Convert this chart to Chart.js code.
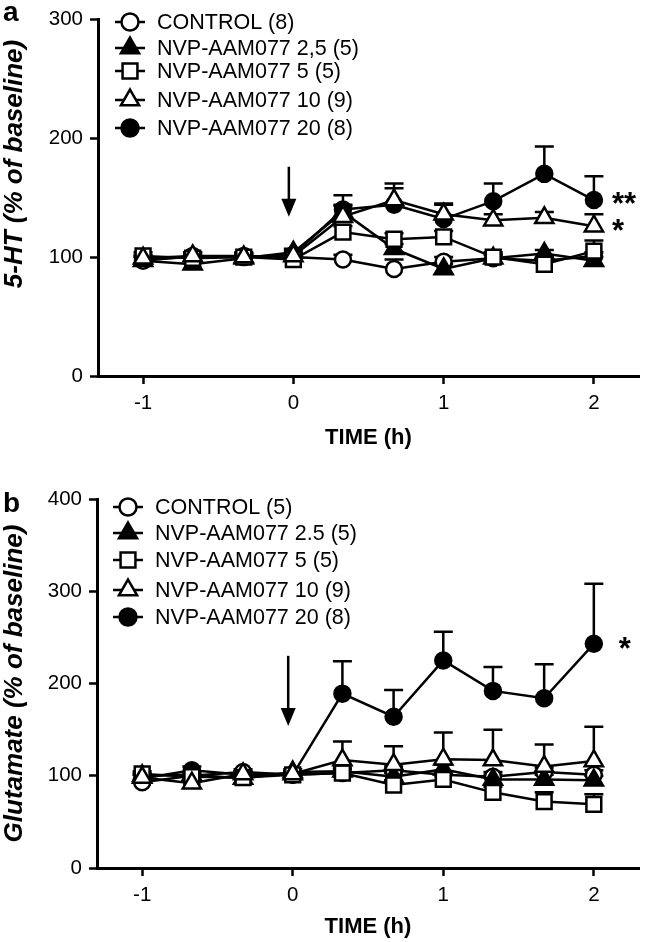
<!DOCTYPE html>
<html><head><meta charset="utf-8">
<script src="https://cdn.jsdelivr.net/npm/chart.js@4/dist/chart.umd.min.js"></script>
<style>
html,body{margin:0;padding:0;background:#fff;}
#wrap{width:652px;height:942px;position:relative;overflow:hidden;}
canvas{position:absolute;left:0;}
</style></head><body>
<div id="wrap">
<canvas id="ca" width="652" height="470" style="top:0"></canvas>
<canvas id="cb" width="652" height="472" style="top:470px"></canvas>
</div>
<script>
// ---------- data ----------
const TIME_H = [-1, -0.67, -0.33, 0, 0.33, 0.67, 1, 1.33, 1.67, 2];
const X_TICKS = [-1, 0, 1, 2];
const Y_TICKS_A = [0, 100, 200, 300];
const Y_TICKS_B = [0, 100, 200, 300, 400];

const LABELS_A = ['CONTROL (8)', 'NVP-AAM077 2,5 (5)', 'NVP-AAM077 5 (5)', 'NVP-AAM077 10 (9)', 'NVP-AAM077 20 (8)'];
const LABELS_B = ['CONTROL (5)', 'NVP-AAM077 2.5 (5)', 'NVP-AAM077 5 (5)', 'NVP-AAM077 10 (9)', 'NVP-AAM077 20 (8)'];

// Panel a: 5-HT (% of baseline), mean and upper SEM
const A_CONTROL = [97, 101, 101, 100, 98, 90, 96, 99, 97, 101];
const A_CONTROL_SEM = [3, 3, 3, 3, 4, 8, 4, 3, 3, 3];
const A_D2_5 = [97, 94, 99, 104, 138, 107, 90, 99, 103, 97];
const A_D2_5_SEM = [3, 3, 3, 3, 5, 4, 4, 3, 3, 3];
const A_D5 = [101, 99, 100, 98, 121, 115, 117, 100, 94, 105];
const A_D5_SEM = [3, 3, 3, 3, 5, 5, 5, 4, 4, 9];
const A_D10 = [99, 101, 100, 101, 134, 148, 136, 131, 133, 126];
const A_D10_SEM = [3, 3, 3, 3, 10, 10, 8, 5, 5, 10];
const A_D20 = [98, 100, 100, 102, 140, 144, 132, 147, 170, 148];
const A_D20_SEM = [3, 3, 3, 4, 12, 18, 13, 15, 23, 20];

// Panel b: Glutamate (% of baseline)
const B_CONTROL = [93, 100, 104, 101, 103, 106, 101, 99, 104, 101];
const B_CONTROL_SEM = [3, 3, 3, 3, 4, 4, 4, 5, 5, 5];
const B_D2_5 = [100, 101, 97, 104, 105, 99, 107, 96, 96, 95];
const B_D2_5_SEM = [3, 3, 3, 3, 4, 4, 5, 5, 5, 5];
const B_D5 = [102, 99, 98, 101, 103, 90, 96, 82, 72, 69];
const B_D5_SEM = [3, 3, 3, 3, 4, 5, 5, 6, 10, 11];
const B_D10 = [98, 92, 102, 102, 117, 112, 118, 117, 110, 116];
const B_D10_SEM = [3, 3, 3, 3, 20, 20, 29, 33, 24, 37];
const B_D20 = [97, 106, 101, 101, 189, 164, 225, 192, 184, 243];
const B_D20_SEM = [4, 4, 4, 4, 35, 29, 31, 26, 37, 65];

// annotations (data coordinates)
const ARROW_A = {x: -0.03, from: 176, to: 134};
const ARROW_B = {x: -0.03, from: 230, to: 154};
const STARS_A = [{text: '**', y: 150}, {text: '*', y: 127}];
const STARS_B = [{text: '*', y: 244}];

// ---------- rendering ----------
const FONT = '"Liberation Sans", Arial, Helvetica, sans-serif';
const STYLES = [
  {pointStyle: 'circle', fill: '#fff', radius: 8, order: 3},
  {pointStyle: 'triangle', fill: '#000', radius: 10.5, order: 2},
  {pointStyle: 'rect', fill: '#fff', radius: 10.5, order: 1},
  {pointStyle: 'triangle', fill: '#fff', radius: 10.5, order: 0},
  {pointStyle: 'circle', fill: '#000', radius: 8, order: 4}
];

function makeDatasets(labels, series, sems) {
  return series.map((vals, i) => ({
    label: labels[i],
    data: TIME_H.map((t, j) => ({x: t, y: vals[j]})),
    sem: sems[i],
    borderColor: '#000',
    borderWidth: 2.5,
    backgroundColor: STYLES[i].fill,
    pointStyle: STYLES[i].pointStyle,
    pointRadius: STYLES[i].radius,
    pointHoverRadius: STYLES[i].radius,
    pointBackgroundColor: STYLES[i].fill,
    pointBorderColor: '#000',
    pointBorderWidth: 2.5,
    tension: 0,
    order: STYLES[i].order,
    clip: false
  }));
}

function drawMarker(ctx, style, fill, x, y, r) {
  ctx.save();
  ctx.fillStyle = fill; ctx.strokeStyle = '#000'; ctx.lineWidth = 2.5;
  ctx.beginPath();
  if (style === 'circle') {
    ctx.arc(x, y, r, 0, Math.PI * 2);
  } else if (style === 'rect') {
    const s = r * Math.SQRT1_2;
    ctx.rect(x - s, y - s, 2 * s, 2 * s);
  } else {
    const k = Math.PI * 2 / 3;
    let a = 0;
    ctx.moveTo(x + Math.sin(a) * r, y - Math.cos(a) * r); a += k;
    ctx.lineTo(x + Math.sin(a) * r, y - Math.cos(a) * r); a += k;
    ctx.lineTo(x + Math.sin(a) * r, y - Math.cos(a) * r);
    ctx.closePath();
  }
  ctx.fill(); ctx.stroke();
  ctx.restore();
}

const errorBars = {
  id: 'errorBars',
  beforeDatasetsDraw(chart) {
    const ctx = chart.ctx, ys = chart.scales.y;
    chart.data.datasets.forEach((ds, i) => {
      const meta = chart.getDatasetMeta(i);
      ctx.save(); ctx.strokeStyle = '#000'; ctx.lineWidth = 2.5;
      meta.data.forEach((pt, j) => {
        const e = ds.sem[j];
        if (!e) return;
        const yt = ys.getPixelForValue(ds.data[j].y + e);
        ctx.beginPath();
        ctx.moveTo(pt.x, pt.y); ctx.lineTo(pt.x, yt);
        ctx.moveTo(pt.x - 9.5, yt); ctx.lineTo(pt.x + 9.5, yt);
        ctx.stroke();
      });
      ctx.restore();
    });
  }
};

const extras = {
  id: 'extras',
  afterDraw(chart, args, o) {
    const ctx = chart.ctx, xs = chart.scales.x, ys = chart.scales.y;
    const ca = chart.chartArea;
    ctx.save();
    // arrow
    const ax = xs.getPixelForValue(o.arrow.x);
    const y0 = ys.getPixelForValue(o.arrow.from), y1 = ys.getPixelForValue(o.arrow.to);
    ctx.strokeStyle = '#000'; ctx.fillStyle = '#000'; ctx.lineWidth = 2.5;
    ctx.beginPath(); ctx.moveTo(ax, y0); ctx.lineTo(ax, y1 - 14); ctx.stroke();
    ctx.beginPath(); ctx.moveTo(ax - 7.5, y1 - 18); ctx.lineTo(ax + 7.5, y1 - 18); ctx.lineTo(ax, y1); ctx.closePath(); ctx.fill();
    // stars
    ctx.font = 'bold 31px ' + FONT; ctx.textAlign = 'left'; ctx.textBaseline = 'alphabetic';
    o.stars.forEach(s => {
      ctx.fillText(s.text, xs.getPixelForValue(2) + o.starDx, ys.getPixelForValue(s.y) + 16);
    });
    // legend
    ctx.font = '21.5px ' + FONT; ctx.textBaseline = 'middle';
    chart.data.datasets.forEach((ds, i) => {
      const y = o.legendRows[i];
      ctx.strokeStyle = '#000'; ctx.lineWidth = 2.5;
      ctx.beginPath(); ctx.moveTo(o.legendX - 15, y); ctx.lineTo(o.legendX + 15, y); ctx.stroke();
      drawMarker(ctx, STYLES[i].pointStyle, STYLES[i].fill, o.legendX, y, STYLES[i].pointStyle === 'circle' ? 8.5 : 10.5);
      ctx.fillStyle = '#000';
      ctx.fillText(ds.label, o.legendTextX, y + 1);
    });
    // y title
    ctx.save();
    ctx.translate(15, o.titleCy === null ? (ca.top + ca.bottom) / 2 : o.titleCy);
    ctx.rotate(-Math.PI / 2);
    ctx.font = 'italic bold 26px ' + FONT; ctx.textAlign = 'center'; ctx.textBaseline = 'middle';
    ctx.fillText(o.yTitle, 0, 0);
    ctx.restore();
    // panel letter
    ctx.font = 'bold 28px ' + FONT; ctx.textAlign = 'left'; ctx.textBaseline = 'alphabetic';
    ctx.fillText(o.letter, 3, o.letterY);
    ctx.restore();
  }
};

function makeChart(id, cfg) {
  return new Chart(document.getElementById(id), {
    type: 'line',
    data: {datasets: makeDatasets(cfg.labels, cfg.series, cfg.sems)},
    plugins: [errorBars, extras],
    options: {
      responsive: false, animation: false, devicePixelRatio: 1,
      events: [],
      layout: {padding: {top: cfg.padTop, right: cfg.padRight, left: 0, bottom: 0}},
      plugins: {
        legend: {display: false}, tooltip: {enabled: false},
        extras: cfg.extras
      },
      scales: {
        x: {
          type: 'linear', min: -1.3, max: 2.3,
          afterBuildTicks: s => { s.ticks = X_TICKS.map(v => ({value: v})); },
          afterFit: s => { s.height = cfg.xHeight; },
          ticks: {color: '#000', font: {family: FONT, size: 20.5}, padding: 7, maxRotation: 0, autoSkip: false},
          grid: {drawOnChartArea: false, drawTicks: true, tickLength: 8, tickWidth: 2.5, tickColor: '#000', color: '#000'},
          border: {display: true, color: '#000', width: 3},
          title: {display: true, text: 'TIME (h)', color: '#000', font: {family: FONT, size: 22, weight: 'bold'}, padding: {top: 0, bottom: cfg.titlePad}}
        },
        y: {
          min: 0, max: cfg.yMax,
          afterBuildTicks: s => { s.ticks = cfg.yTicks.map(v => ({value: v})); },
          afterFit: s => { s.width = cfg.yWidth; },
          ticks: {color: '#000', font: {family: FONT, size: 20.5}, padding: 7},
          grid: {drawOnChartArea: false, drawTicks: true, tickLength: 8, tickWidth: 2.5, tickColor: '#000', color: '#000'},
          border: {display: true, color: '#000', width: 3}
        }
      }
    }
  });
}

makeChart('ca', {
  labels: LABELS_A,
  series: [A_CONTROL, A_D2_5, A_D5, A_D10, A_D20],
  sems: [A_CONTROL_SEM, A_D2_5_SEM, A_D5_SEM, A_D10_SEM, A_D20_SEM],
  yMax: 300, yTicks: Y_TICKS_A,
  padTop: 12, padRight: 2, xHeight: 94, yWidth: 98, titlePad: 19,
  extras: {arrow: ARROW_A, stars: STARS_A, starDx: 18,
    legendRows: [22, 48, 71, 100, 128], legendX: 130, legendTextX: 157,
    yTitle: '5-HT (% of baseline)', titleCy: 164, letter: 'a', letterY: 21}
});

makeChart('cb', {
  labels: LABELS_B,
  series: [B_CONTROL, B_D2_5, B_D5, B_D10, B_D20],
  sems: [B_CONTROL_SEM, B_D2_5_SEM, B_D5_SEM, B_D10_SEM, B_D20_SEM],
  yMax: 400, yTicks: Y_TICKS_B,
  padTop: 29, padRight: 5, xHeight: 74, yWidth: 97, titlePad: 2,
  extras: {arrow: ARROW_B, stars: STARS_B, starDx: 25,
    legendRows: [37, 63, 90, 120, 147], legendX: 128, legendTextX: 155,
    yTitle: 'Glutamate (% of baseline)', titleCy: null, letter: 'b', letterY: 42}
});
</script>
</body></html>
